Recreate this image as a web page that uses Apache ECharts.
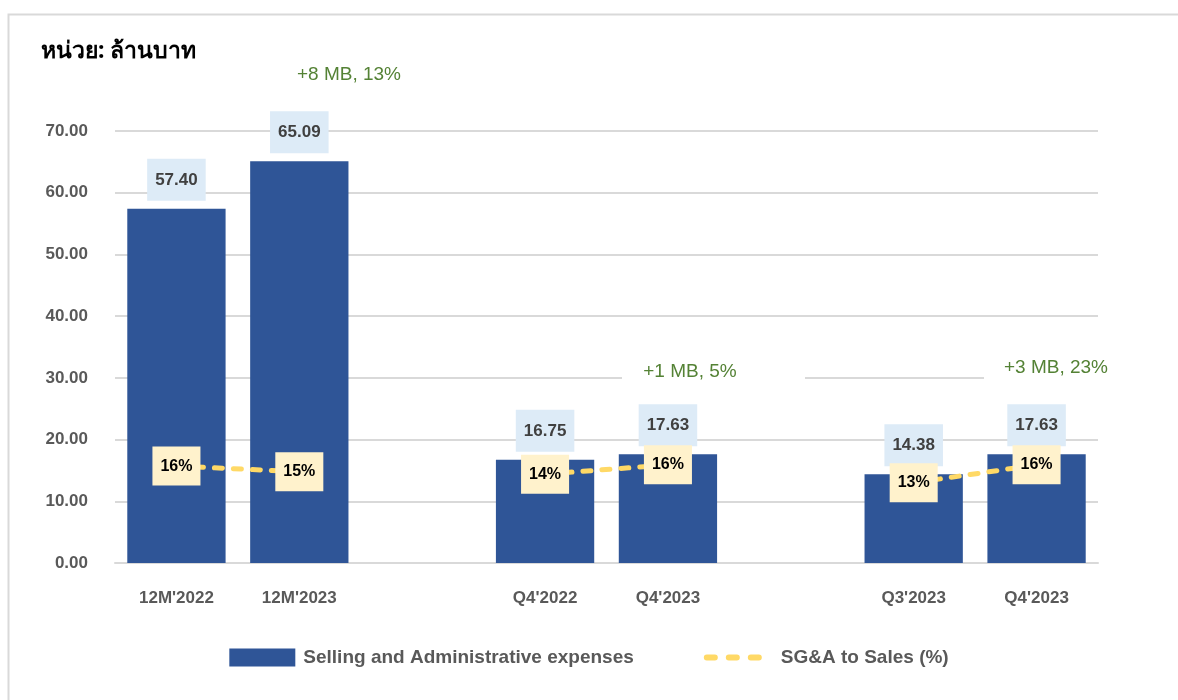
<!DOCTYPE html>
<html>
<head>
<meta charset="utf-8">
<script src="https://cdn.jsdelivr.net/npm/echarts@6/dist/echarts.min.js"></script>
<style>
  html, body { margin: 0; padding: 0; background: #fff; }
  #chart { width: 1178px; height: 700px; }
</style>
</head>
<body>
<div id="chart"></div>
<script>
// categories (empty ones are the gaps between the pairs)
const categories = ["12M'2022", "12M'2023", '', "Q4'2022", "Q4'2023", '', "Q3'2023", "Q4'2023"];
// Selling and Administrative expenses (ล้านบาท)
const expenses = [57.40, 65.09, null, 16.75, 17.63, null, 14.38, 17.63];
// SG&A to Sales (%)
const sgaRatio = [15.7, 14.8, null, 14.4, 15.9, null, 13.0, 15.9];
// y axis ticks
const yTicks = [0, 10, 20, 30, 40, 50, 60, 70];
// change notes
const notes = ['+8 MB, 13%', '+1 MB, 5%', '+3 MB, 23%'];

const font = '"Liberation Sans", Arial, sans-serif';
const grey = '#595959';

const chart = echarts.init(document.getElementById('chart'));

const option = {
  animation: false,
  title: {
    text: 'หน่วย: ล้านบาท',
    left: 36,
    top: 35,
    textStyle: { fontSize: 23, fontWeight: 'bold', color: '#000', fontFamily: 'Tahoma, "Noto Sans", sans-serif' }
  },
  grid: { left: 115, right: 80, top: 131, bottom: 137 },
  legend: {
    bottom: 28,
    left: 'center',
    itemWidth: 66,
    itemHeight: 18,
    itemGap: 70,
    textStyle: { fontSize: 19, fontWeight: 'bold', color: grey, fontFamily: font, padding: [0, 0, 0, 3] },
    data: [
      { name: 'Selling and Administrative expenses', icon: 'rect' },
      {
        name: 'SG&A to Sales (%)',
        itemStyle: { opacity: 0 },
        lineStyle: { color: '#FFD966', width: 6, type: [8, 14], cap: 'round' }
      }
    ]
  },
  xAxis: {
    type: 'category',
    data: categories,
    axisLine: { lineStyle: { color: '#D9D9D9', width: 2 } },
    axisTick: { show: false },
    axisLabel: { margin: 27, fontSize: 17, fontWeight: 'bold', color: grey, fontFamily: font }
  },
  yAxis: {
    type: 'value',
    min: yTicks[0],
    max: yTicks[yTicks.length - 1],
    interval: 10,
    axisLine: { show: false },
    axisTick: { show: false },
    splitLine: { lineStyle: { color: '#D9D9D9', width: 2 } },
    axisLabel: {
      margin: 27, fontSize: 17, fontWeight: 'bold', color: grey, fontFamily: font,
      formatter: v => v.toFixed(2)
    }
  },
  series: [
    {
      name: 'Selling and Administrative expenses',
      type: 'bar',
      data: expenses,
      barWidth: '80%',
      itemStyle: { color: '#2F5597' },
      label: {
        show: true,
        position: 'top',
        distance: 8,
        formatter: p => p.value.toFixed(2),
        backgroundColor: '#DDEBF7',
        padding: [13, 8, 12, 8],
        fontSize: 17,
        fontWeight: 'bold',
        color: '#404040',
        fontFamily: font
      },
      z: 2
    },
    {
      name: 'SG&A to Sales (%)',
      type: 'line',
      data: sgaRatio,
      connectNulls: false,
      symbol: 'circle',
      symbolSize: 1,
      itemStyle: { color: '#FFD966' },
      lineStyle: { color: '#FFD966', width: 5, type: [8, 11], cap: 'round' },
      label: {
        show: true,
        position: 'inside',
        formatter: p => Math.round(p.value) + '%',
        backgroundColor: '#FFF2CC',
        padding: [12, 8, 11, 8],
        fontSize: 16,
        fontWeight: 'bold',
        color: '#000',
        fontFamily: font
      },
      z: 5
    }
  ],
  graphic: [
    { type: 'rect', left: 6, top: 12, shape: { width: 1200, height: 720 }, style: { fill: 'none', stroke: '#D9D9D9', lineWidth: 2 }, silent: true, z: 0 },
    { type: 'rect', left: 622, top: 360, shape: { width: 183, height: 26 }, style: { fill: '#fff' }, z: 10 },
    { type: 'rect', left: 984, top: 356, shape: { width: 140, height: 26 }, style: { fill: '#fff' }, z: 10 },
    { type: 'text', x: 349, y: 75, style: { text: notes[0], fill: '#548235', fontSize: 19, fontFamily: font, align: 'center', verticalAlign: 'middle' }, z: 11 },
    { type: 'text', x: 690, y: 372, style: { text: notes[1], fill: '#548235', fontSize: 19, fontFamily: font, align: 'center', verticalAlign: 'middle' }, z: 11 },
    { type: 'text', x: 1056, y: 368, style: { text: notes[2], fill: '#548235', fontSize: 19, fontFamily: font, align: 'center', verticalAlign: 'middle' }, z: 11 }
  ]
};

chart.setOption(option);
window.addEventListener('resize', () => chart.resize());
</script>
</body>
</html>
